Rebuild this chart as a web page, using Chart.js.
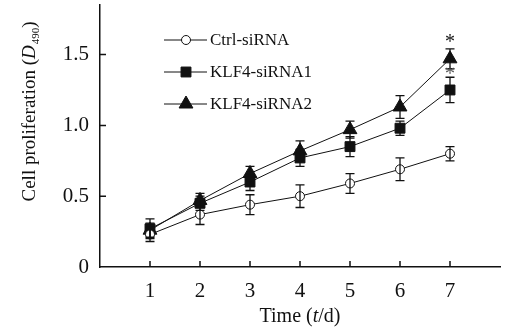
<!DOCTYPE html>
<html>
<head>
<meta charset="utf-8">
<script src="https://cdn.jsdelivr.net/npm/chart.js@4.4.1/dist/chart.umd.min.js"></script>
<style>
  html, body { margin: 0; padding: 0; background: #fff; }
  #wrap { width: 508px; height: 334px; }
</style>
</head>
<body>
<div id="wrap"><canvas id="chart-proliferation"></canvas></div>
<script>
// ---------- DATOS
const days = [1, 2, 3, 4, 5, 6, 7];
const seriesNames = ['Ctrl-siRNA', 'KLF4-siRNA1', 'KLF4-siRNA2'];
const ctrlValues = [0.23, 0.37, 0.44, 0.50, 0.59, 0.69, 0.80];
const ctrlErr = [0.05, 0.07, 0.07, 0.08, 0.07, 0.08, 0.05];
const klf1Values = [0.27, 0.45, 0.60, 0.77, 0.85, 0.98, 1.25];
const klf1Err = [0.07, 0.05, 0.06, 0.06, 0.07, 0.05, 0.09];
const klf2Values = [0.26, 0.47, 0.66, 0.82, 0.97, 1.13, 1.47];
const klf2Err = [0.05, 0.05, 0.05, 0.07, 0.06, 0.08, 0.07];
const yTicks = [0, 0.5, 1.0, 1.5];
const starDay = 7;

const FONT = "'Liberation Serif', 'Times New Roman', serif";
const INK = '#111';

function toPoints(vals) {
  return days.map((d, i) => ({ x: d, y: vals[i] }));
}

// ---------- BARRAS DE ERROR, MARCAS INTERNAS, LEYENDA Y TITULOS
const extrasPlugin = {
  id: 'extras',
  afterDatasetsDraw(chart) {
    const ctx = chart.ctx;
    const xs = chart.scales.x, ys = chart.scales.y;
    const errs = [ctrlErr, klf1Err, klf2Err];
    ctx.save();
    ctx.strokeStyle = INK;
    ctx.lineWidth = 1.3;
    chart.data.datasets.forEach((ds, k) => {
      ds.data.forEach((p, i) => {
        const x = xs.getPixelForValue(p.x);
        const yTop = ys.getPixelForValue(p.y + errs[k][i]);
        const yBot = ys.getPixelForValue(p.y - errs[k][i]);
        ctx.beginPath();
        ctx.moveTo(x, yTop); ctx.lineTo(x, yBot);
        ctx.moveTo(x - 4.5, yTop); ctx.lineTo(x + 4.5, yTop);
        ctx.moveTo(x - 4.5, yBot); ctx.lineTo(x + 4.5, yBot);
        ctx.stroke();
      });
    });
    // asteriscos dia 7
    ctx.fillStyle = INK;
    ctx.font = '20px ' + FONT;
    ctx.textAlign = 'center';
    ctx.textBaseline = 'middle';
    const i7 = days.indexOf(starDay);
    const sx = xs.getPixelForValue(starDay);
    ctx.fillText('*', sx, ys.getPixelForValue(klf2Values[i7] + klf2Err[i7]) - 6);
    ctx.fillStyle = '#555';
    ctx.fillText('*', sx, ys.getPixelForValue(klf1Values[i7] + klf1Err[i7]) - 2);
    ctx.restore();
  },
  afterDraw(chart) {
    const ctx = chart.ctx;
    const xs = chart.scales.x, ys = chart.scales.y;
    const area = chart.chartArea;
    ctx.save();
    ctx.strokeStyle = INK;
    ctx.lineWidth = 1.5;
    // marcas hacia dentro
    ctx.beginPath();
    days.forEach(d => {
      const x = xs.getPixelForValue(d);
      ctx.moveTo(x, area.bottom); ctx.lineTo(x, area.bottom - 6);
    });
    yTicks.forEach(v => {
      if (v === 0) return;
      const y = ys.getPixelForValue(v);
      ctx.moveTo(area.left, y); ctx.lineTo(area.left + 6, y);
    });
    ctx.stroke();

    // leyenda
    const styles = chart.data.datasets;
    ctx.lineWidth = 1;
    ctx.font = '17px ' + FONT;
    ctx.textAlign = 'left';
    ctx.textBaseline = 'middle';
    styles.forEach((ds, k) => {
      const y = 40 + k * 32;
      ctx.strokeStyle = INK;
      ctx.beginPath();
      ctx.moveTo(164, y); ctx.lineTo(207, y);
      ctx.stroke();
      ctx.fillStyle = ds.pointBackgroundColor;
      ctx.strokeStyle = INK;
      ctx.lineWidth = 1;
      Chart.helpers.drawPoint(ctx, {
        pointStyle: ds.pointStyle, radius: ds.pointRadius, borderWidth: 1
      }, 186, y);
      ctx.fillStyle = INK;
      ctx.fillText(seriesNames[k], 210, y + 1);
    });

    // titulo eje x
    ctx.textBaseline = 'alphabetic';
    const parts = [['Time (', ''], ['t', 'italic '], ['/d)', '']];
    let total = 0;
    parts.forEach(p => { ctx.font = p[1] + '20px ' + FONT; total += ctx.measureText(p[0]).width; });
    let cx = 300 - total / 2;
    parts.forEach(p => {
      ctx.font = p[1] + '20px ' + FONT;
      ctx.fillText(p[0], cx, 322);
      cx += ctx.measureText(p[0]).width;
    });

    // titulo eje y
    ctx.translate(35, 112);
    ctx.rotate(-Math.PI / 2);
    const yparts = [['Cell proliferation (', '', 19, 0], ['D', 'italic ', 19, 0], ['490', '', 11, 4], [')', '', 19, 0]];
    total = 0;
    yparts.forEach(p => { ctx.font = p[1] + p[2] + 'px ' + FONT; total += ctx.measureText(p[0]).width; });
    cx = -total / 2;
    yparts.forEach(p => {
      ctx.font = p[1] + p[2] + 'px ' + FONT;
      ctx.fillText(p[0], cx, p[3]);
      cx += ctx.measureText(p[0]).width + (p[0] === 'D' ? 1 : 0);
    });
    ctx.restore();
  }
};

const ctx = document.getElementById('chart-proliferation').getContext('2d');
const myChartProliferation = new Chart(ctx, {
  type: 'line',
  data: {
    datasets: [{
      label: seriesNames[0],
      data: toPoints(ctrlValues),
      borderColor: INK,
      borderWidth: 1,
      pointStyle: 'circle',
      pointRadius: 4.5,
      pointBackgroundColor: '#fff',
      pointBorderColor: INK,
      pointBorderWidth: 1
    }, {
      label: seriesNames[1],
      data: toPoints(klf1Values),
      borderColor: INK,
      borderWidth: 1,
      pointStyle: 'rect',
      pointRadius: 7,
      pointBackgroundColor: INK,
      pointBorderColor: INK,
      pointBorderWidth: 1
    }, {
      label: seriesNames[2],
      data: toPoints(klf2Values),
      borderColor: INK,
      borderWidth: 1,
      pointStyle: 'triangle',
      pointRadius: 8,
      pointBackgroundColor: INK,
      pointBorderColor: INK,
      pointBorderWidth: 1
    }]
  },
  options: {
    responsive: true,
    maintainAspectRatio: false,
    animation: false,
    layout: { autoPadding: false, padding: { left: 0, right: 8, top: 5, bottom: 0 } },
    plugins: { legend: { display: false }, tooltip: { enabled: false } },
    scales: {
      x: {
        type: 'linear',
        min: 0,
        max: 8,
        afterBuildTicks: s => { s.ticks = days.map(v => ({ value: v })); },
        afterFit: s => { s.height = 67; s.paddingLeft = 0; s.paddingRight = 0; },
        grid: { display: false, drawTicks: false },
        border: { display: true, color: INK, width: 1.5 },
        ticks: { color: INK, padding: 12, font: { family: FONT, size: 21 }, maxRotation: 0 }
      },
      y: {
        min: 0,
        max: 1.85,
        afterBuildTicks: s => { s.ticks = yTicks.map(v => ({ value: v })); },
        afterFit: s => { s.width = 100; s.paddingTop = 0; s.paddingBottom = 0; },
        grid: { display: false, drawTicks: false },
        border: { display: true, color: INK, width: 1.5 },
        ticks: {
          color: INK, padding: 11, font: { family: FONT, size: 21 },
          callback: v => v === 0 ? '0' : v.toFixed(1)
        }
      }
    }
  },
  plugins: [extrasPlugin]
});
</script>
</body>
</html>
